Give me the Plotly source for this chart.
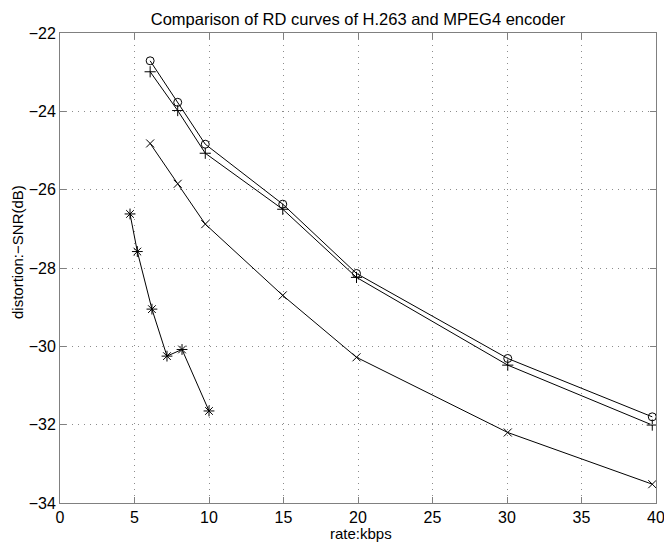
import plotly.graph_objects as go

rate = [6.05, 7.9, 9.75, 14.95, 19.9, 30.05, 39.75]
snr_circle = [-22.71, -23.77, -24.84, -26.37, -28.14, -30.31, -31.80]
snr_plus = [-22.99, -23.98, -25.07, -26.50, -28.24, -30.48, -32.01]
snr_x = [-24.82, -25.85, -26.88, -28.70, -30.28, -32.20, -33.52]

rate_star = [4.70, 5.19, 6.17, 7.18, 8.19, 10.0]
snr_star = [-26.62, -27.58, -29.05, -30.25, -30.08, -31.65]

xticks = [0, 5, 10, 15, 20, 25, 30, 35, 40]
yticks = [-34, -32, -30, -28, -26, -24, -22]
yticktext = ["\u221234", "\u221232", "\u221230", "\u221228", "\u221226", "\u221224", "\u221222"]

fig = go.Figure()

def add(xs, ys, sym, size):
    fig.add_trace(go.Scatter(
        x=xs, y=ys, mode="lines+markers",
        line=dict(color="black", width=1),
        marker=dict(symbol=sym, size=size, color="black",
                    line=dict(color="black", width=1)),
        showlegend=False, hoverinfo="skip"))

add(rate, snr_circle, "circle-open", 8)
add(rate, snr_plus, "cross-thin-open", 8)
add(rate, snr_x, "x-thin-open", 8)
add(rate_star, snr_star, "asterisk-open", 9)

font = "Liberation Sans, Arial, Helvetica, sans-serif"
axis_common = dict(
    showgrid=True, gridcolor="#8c8c8c", griddash="1px,5px", gridwidth=1,
    zeroline=False, showline=True, linecolor="#808080", linewidth=1,
    mirror="ticks", ticks="inside", ticklen=6, tickcolor="#808080",
    tickfont=dict(family=font, size=16, color="black"),
    ticklabeloverflow="allow",
    automargin=False,
)

fig.update_layout(
    width=664, height=544,
    margin=dict(l=60, r=8, t=33, b=41),
    paper_bgcolor="white", plot_bgcolor="white",
    title=dict(text="Comparison of RD curves of H.263 and MPEG4 encoder",
               x=0.5, xanchor="center", xref="paper",
               y=1 - 19 / 544, yref="container", yanchor="middle",
               font=dict(family=font, size=16.5, color="black")),
    xaxis=dict(range=[0, 40], tickvals=xticks, ticktext=[str(t) for t in xticks],
               **axis_common),
    yaxis=dict(range=[-34, -22], tickvals=yticks, ticktext=yticktext,
               **axis_common),
    annotations=[
        dict(text="rate:kbps", xref="paper", yref="paper",
             x=(361 - 60) / 596, y=(503 - 533) / 470, xanchor="center", yanchor="middle",
             showarrow=False, font=dict(family=font, size=15, color="black")),
        dict(text="distortion:\u2212SNR(dB)", xref="paper", yref="paper",
             x=(18 - 60) / 596, y=(503 - 252) / 470, xanchor="center", yanchor="middle",
             textangle=-90, showarrow=False,
             font=dict(family=font, size=15, color="black")),
    ],
)

# remove the default page margin so the 664x544 figure fills the window exactly
fig.write_html("out.html",
               config={"displayModeBar": False},
               post_script="document.body.style.margin='0';document.body.style.overflow='hidden';")
